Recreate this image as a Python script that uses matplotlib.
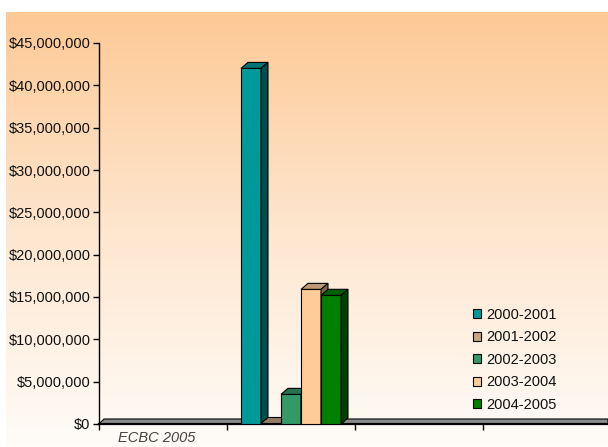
import numpy as np
import matplotlib.pyplot as plt
from matplotlib.patches import Polygon
from matplotlib.colors import LinearSegmentedColormap, to_rgb

plt.rcParams['font.family'] = ['Liberation Sans', 'DejaVu Sans']

### data
categories = ['ECBC 2005', '', '', '']
seasons = ['2000-2001', '2001-2002', '2002-2003', '2003-2004', '2004-2005']
values = [42000000, 60000, 3500000, 15900000, 15200000]   # all in 2nd category
group = 1
colors = ['#009999', '#C9A57E', '#339966', '#FFCC99', '#008000']
yticks = np.arange(0, 45000001, 5000000)

### geometry (pixels at 100 dpi)
W, H = 608, 447
ax_l, ax_b, ax_w, ax_h = 99, 23, 509, 381
cat_px = 128
bar_px = 20
dep_x, dep_y = 7, 6
floor_x, floor_y = 5, 5
ymax = 45000000
fs = 10.5

fig = plt.figure(figsize=(W / 100, H / 100), dpi=100)

# gradient backdrop
bg = fig.add_axes([6 / W, 0, (W - 6) / W, (H - 12) / H], zorder=-5)
cmap = LinearSegmentedColormap.from_list('peach', ['#FFFCF8', '#FEE6CF', '#FDC995'])
bg.imshow(np.linspace(0, 1, 256).reshape(-1, 1)[::-1], aspect='auto', cmap=cmap)
bg.axis('off')

ax = fig.add_axes([ax_l / W, ax_b / H, ax_w / W, ax_h / H])
ax.patch.set_alpha(0)
xmax = -0.5 + ax_w / cat_px
ax.set_xlim(-0.5, xmax)
ax.set_ylim(0, ymax)

dx = dep_x / cat_px
dy = dep_y * ymax / ax_h
fdx = floor_x / cat_px
fdy = floor_y * ymax / ax_h
bw = bar_px / cat_px

def shade(c, f):
    return tuple(np.array(to_rgb(c)) * f)

# floor
floor = Polygon([(-0.5, 0), (-0.5 + fdx, fdy), (xmax, fdy), (xmax, 0)],
                closed=True, fc='#8C8C8C', ec='black', lw=0.8, zorder=1, clip_on=False)
ax.add_patch(floor)

offsets = (np.arange(len(seasons)) - (len(seasons) - 1) / 2) * bw
for i, (s, v, c) in enumerate(zip(seasons, values, colors)):
    x = group + offsets[i] - bw / 2
    z = 2 + i * 0.1
    ax.bar(x, v, width=bw, align='edge', color=c, edgecolor='black', lw=0.8,
           label=s, zorder=z)
    top = Polygon([(x, v), (x + bw, v), (x + bw + dx, v + dy), (x + dx, v + dy)],
                  closed=True, fc=shade(c, 0.75), ec='black', lw=0.8, zorder=z, clip_on=False)
    side = Polygon([(x + bw, 0), (x + bw + dx, dy), (x + bw + dx, v + dy), (x + bw, v)],
                   closed=True, fc=shade(c, 0.5), ec='black', lw=0.8, zorder=z, clip_on=False)
    ax.add_patch(top)
    ax.add_patch(side)

# axes styling
for sp in ['top', 'right']:
    ax.spines[sp].set_visible(False)
ax.spines['left'].set_linewidth(1.0)
ax.spines['bottom'].set_linewidth(1.6)
ax.spines['bottom'].set_zorder(1.5)
ax.set_yticks(yticks)
ax.set_yticklabels(['${:,.0f}'.format(t) for t in yticks])
ax.tick_params(axis='y', length=4, width=1, labelsize=fs, pad=2, labelcolor='#111111')

ax.set_xticks(np.arange(-0.5, xmax, 1))
ax.set_xticklabels([])
ax.tick_params(axis='x', which='major', direction='out', length=4, width=1)
ax.set_xticks(np.arange(len(categories)) - 0.05, minor=True)
ax.set_xticklabels(categories, minor=True, style='italic', color='#4A3F3A', fontsize=fs)
ax.tick_params(axis='x', which='minor', length=0, pad=5)

handles, labels = ax.get_legend_handles_labels()
leg = fig.legend(handles, labels, loc='upper left', bbox_to_anchor=(473 / W, 1 - 308 / H),
                 frameon=False, fontsize=fs, handlelength=0.55, handleheight=0.55,
                 handletextpad=0.35, labelspacing=0.58, borderpad=0, borderaxespad=0)
for t in leg.get_texts():
    t.set_color('#111111')

fig.savefig('out.png', dpi=100)
